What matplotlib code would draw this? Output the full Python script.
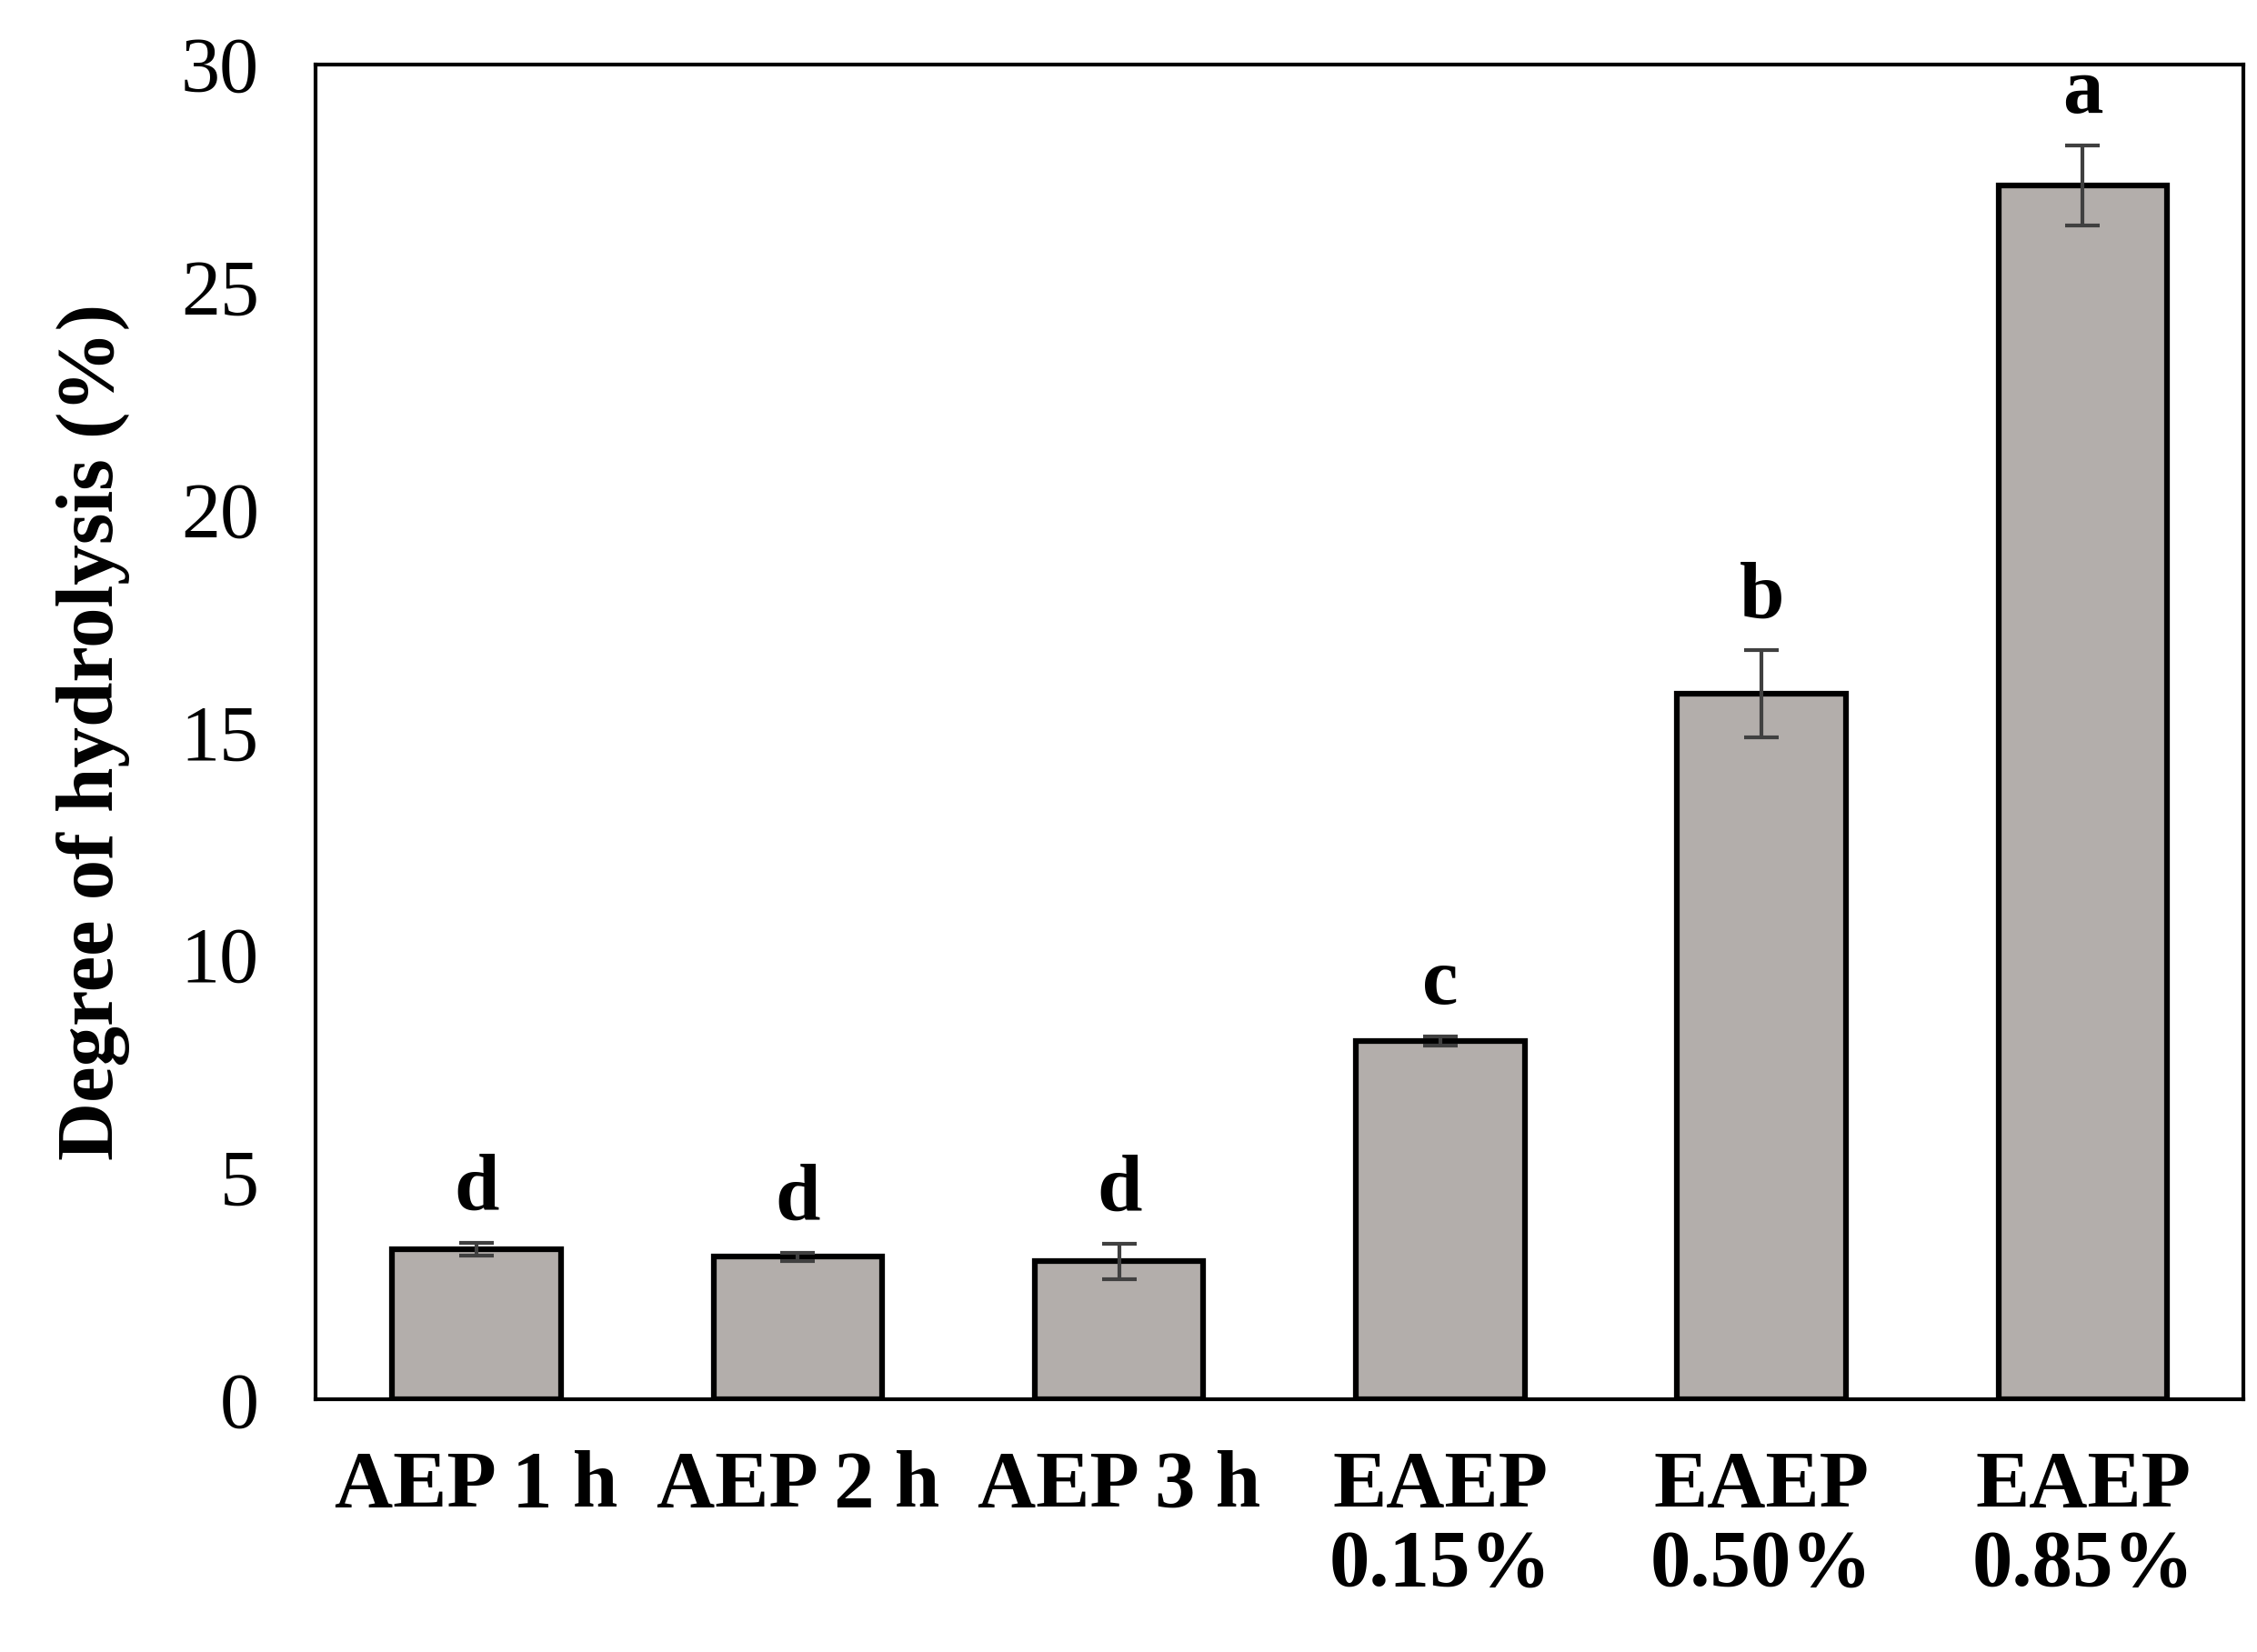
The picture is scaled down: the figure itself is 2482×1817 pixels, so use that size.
import matplotlib.pyplot as plt

labels = ['AEP 1 h', 'AEP 2 h', 'AEP 3 h', 'EAEP\n0.15%', 'EAEP\n0.50%', 'EAEP\n0.85%']
values = [3.37, 3.2, 3.1, 8.05, 15.85, 27.28]
errors = [0.15, 0.1, 0.4, 0.1, 0.98, 0.9]
letters = ['d', 'd', 'd', 'c', 'b', 'a']

plt.rcParams['font.family'] = ['Liberation Serif', 'DejaVu Serif']

fig = plt.figure(figsize=(24.82, 18.17), dpi=100)
ax = fig.add_axes([0.140, 0.153, 0.854, 0.808])
x = range(len(values))
ax.bar(x, values, width=0.525, color='#b3aeab', edgecolor='black', linewidth=4.5,
       yerr=errors, error_kw=dict(ecolor='#404040', elinewidth=3, capsize=14, capthick=3))
for i, (v, e, l) in enumerate(zip(values, errors, letters)):
    ax.text(i, v + e + 0.35, l, ha='center', va='bottom', fontsize=64, fontweight='bold')

ax.set_xlim(-0.5, 5.5)
ax.set_ylim(0, 30)
ax.set_yticks(range(0, 31, 5))
ax.set_xticks(list(x))
ax.set_xticklabels(labels, fontsize=64, fontweight='bold', linespacing=1.1)
ax.tick_params(axis='y', labelsize=62, length=0, pad=45)
ax.tick_params(axis='x', length=0, pad=40)
for s in ax.spines.values():
    s.set_linewidth(3)
ax.set_ylabel('Degree of hydrolysis (%)', fontsize=64, fontweight='bold', labelpad=40)

fig.savefig('out.png')
